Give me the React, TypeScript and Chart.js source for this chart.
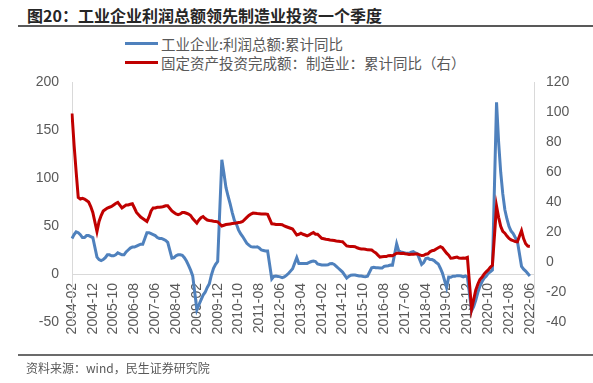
import React, { useEffect, useRef } from 'react';
import { Chart, registerables } from 'chart.js';

Chart.register(...registerables);

// 工业企业:利润总额:累计同比 (%), Feb..Dec of each year (January has no release)
const profitByYear: number[][] = [
  [37, 41, 44, 43, 41, 38, 38, 40, 40, 39, 38], // 2004
  [17.6, 15, 14, 15, 17, 20, 20, 19, 19, 20, 22], // 2005
  [20, 20, 23, 25, 27, 28, 28, 29, 30, 31, 31], // 2006
  [43, 43, 42, 41, 40, 38, 37, 37, 36, 35, 33], // 2007
  [16.5, 17, 19, 20, 20, 19.5, 17, 13.5, 9, 4, -2], // 2008
  [-37.3, -32, -27, -22, -19, -14, -10, -1, 6, 10, 13], // 2009
  [119, 105, 90, 81, 73, 64, 56, 52, 46, 42, 39], // 2010
  [32, 30, 28.5, 28, 28, 28.3, 27, 25, 24.5, 24, 24], // 2011
  [-5.2, -2.5, -2.2, -2.5, -3, -3.8, -3, -1.5, 0.5, 3, 5.5], // 2012
  [17, 11, 11, 11, 11, 11, 12, 13, 13.5, 13, 10.5], // 2013
  [9.5, 9.5, 9.3, 9.5, 10.7, 11, 10, 8, 6, 4, 2], // 2014
  [-4.2, -2.5, -1.3, -1, -1, -1.5, -2, -2, -2.5, -2.8, -2.3], // 2015
  [6.5, 7, 6.5, 6.4, 6.2, 6.2, 8, 8.4, 8.6, 9.4, 9.3], // 2016
  [31.5, 24, 23, 22.5, 22, 21.5, 21.6, 22.8, 23.3, 21.9, 21], // 2017
  [10, 12, 16, 16.5, 15, 15, 14, 12, 10.5, 6, 1], // 2018
  [-14, -3.3, -3.4, -2.3, -2.4, -1.7, -1.7, -2.1, -2.9, -2.1, -3.3], // 2019
  [-38.3, -34, -27.4, -19.3, -12.8, -8.1, -4.4, -2.4, 0.7, 2.4, 4.1], // 2020
  [178.9, 137.3, 106, 83.4, 66.9, 57.3, 49.5, 44.7, 42.2, 38, 34.3], // 2021
  [8, 5, 3, 0.5, -2], // 2022
];

// 固定资产投资完成额：制造业：累计同比 (%), right axis, Feb..Dec
const faiByYear: number[][] = [
  [99, 78, 60, 43, 42, 42.5, 42, 41, 40, 37, 33], // 2004
  [20.3, 27, 31, 34, 35, 36, 36.5, 37, 38, 39, 39.7], // 2005
  [36, 37, 38, 38, 38.5, 38.8, 36, 33, 31.5, 30, 29], // 2006
  [27, 30, 34, 36, 36, 36.5, 36.5, 36.6, 37, 37.5, 37.5], // 2007
  [34, 33, 32, 31.5, 32, 33, 33, 32.5, 32, 31, 29], // 2008
  [26, 28, 29.5, 30.3, 29, 28, 27.7, 27.5, 27.2, 27, 26.8], // 2009
  [24, 24.5, 25, 25.2, 25.4, 25.6, 25.8, 26, 26.3, 26.5, 27], // 2010
  [29.7, 31, 32, 32.6, 32.5, 32.3, 32.2, 32, 32, 32, 31.8], // 2011
  [25.4, 25.3, 25, 25, 25, 24.8, 24, 23.5, 23, 22.5, 22], // 2012
  [18, 18.5, 19.2, 18.5, 18, 17.4, 18, 19, 19.6, 18.5, 18.5], // 2013
  [15.8, 15.5, 15.2, 15, 14.7, 14.5, 14.3, 14, 13.8, 13.6, 13.5], // 2014
  [10.7, 10.5, 10.4, 10.3, 10.2, 9.5, 9, 8.7, 8.6, 8.5, 8.1], // 2015
  [8, 6.9, 6, 4.6, 3.3, 3.5, 3.6, 3.6, 4.2, 4.4, 4.2], // 2016
  [5.8, 5.8, 5.7, 5.8, 5.5, 5.3, 5, 5.1, 5.2, 5.3, 5.4], // 2017
  [4.3, 4.5, 5.2, 5.5, 6.8, 7.5, 7.8, 8.7, 9.5, 10.2, 9.5], // 2018
  [5.9, 4.6, 2.5, 2.7, 3, 3.3, 2.6, 2.5, 2.6, 2.5, 3.1], // 2019
  [-31.5, -25.2, -18.8, -14.8, -11.7, -10.2, -8.1, -6.5, -5.3, -3.5, -2.2], // 2020
  [37.3, 29.8, 23.8, 20.4, 19.2, 17.3, 15.7, 14.8, 14.2, 13.7, 13.5], // 2021
  [20.9, 15.6, 12.2, 10.6, 10.4], // 2022
];

const tickLabels = [
  '2004-02', '2004-12', '2005-10', '2006-08', '2007-06', '2008-04', '2009-02', '2009-12',
  '2010-10', '2011-08', '2012-06', '2013-04', '2014-02', '2014-12', '2015-10', '2016-08',
  '2017-06', '2018-04', '2019-02', '2019-12', '2020-10', '2021-08', '2022-06',
];

const seriesNames = ['工业企业:利润总额:累计同比', '固定资产投资完成额：制造业：累计同比（右）'];
const seriesColors = ['#4f81bd', '#c00000'];
const titleText = '图20：工业企业利润总额领先制造业投资一个季度';
const sourceText = '资料来源：wind，民生证券研究院';

const START_YEAR = 2004;

function flattenYears(rows: number[][]): (number | null)[] {
  const out: (number | null)[] = [];
  rows.forEach((row, k) => {
    if (k > 0) out.push(null); // January (no release)
    row.forEach((v) => out.push(v));
  });
  return out;
}

function buildCategories(count: number): string[] {
  const cats: string[] = [];
  let y = START_YEAR;
  let m = 2;
  for (let i = 0; i < count; i++) {
    cats.push(`${y}-${m < 10 ? '0' + m : m}`);
    m++;
    if (m > 12) { m = 1; y++; }
  }
  return cats;
}

const profit = flattenYears(profitByYear);
const fai = flattenYears(faiByYear);
const categories = buildCategories(profit.length).concat(['', '']);

const TICK_FONT = { family: '"Liberation Sans", Arial, sans-serif', size: 14 };
const GRAY = '#595959';
const CJK = '"Noto Sans CJK SC", "Liberation Sans", sans-serif';

function ChartCanvas() {
  const ref = useRef<HTMLCanvasElement | null>(null);
  useEffect(() => {
    if (!ref.current) return;
    const chart = new Chart(ref.current, {
      type: 'line',
      data: {
        labels: categories,
        datasets: [
          {
            label: seriesNames[0],
            data: profit,
            borderColor: seriesColors[0],
            backgroundColor: seriesColors[0],
            borderWidth: 3,
            pointRadius: 0,
            tension: 0,
            spanGaps: true,
            yAxisID: 'y',
            order: 1,
          },
          {
            label: seriesNames[1],
            data: fai,
            borderColor: seriesColors[1],
            backgroundColor: seriesColors[1],
            borderWidth: 3,
            pointRadius: 0,
            tension: 0,
            spanGaps: true,
            yAxisID: 'y1',
            order: 0,
          },
        ],
      },
      options: {
        animation: false,
        responsive: true,
        maintainAspectRatio: false,
        layout: { padding: { top: 82, bottom: 61, left: 0, right: 0 } },
        plugins: { legend: { display: false }, tooltip: { enabled: false }, title: { display: false } },
        scales: {
          x: {
            type: 'category',
            position: { y: 0 } as any,
            grid: { display: false, drawTicks: false },
            border: { display: true, color: '#d9d9d9', width: 1 },
            ticks: {
              autoSkip: false,
              minRotation: 90,
              maxRotation: 90,
              padding: 9,
              color: GRAY,
              font: TICK_FONT,
              callback: (_v: any, idx: number) => {
                const lab = categories[idx];
                return tickLabels.includes(lab) ? lab : '';
              },
            },
          },
          y: {
            position: 'left',
            min: -50,
            max: 200,
            grid: { display: false, drawTicks: false },
            border: { display: true, color: '#d9d9d9', width: 1 },
            ticks: { stepSize: 50, padding: 13, color: GRAY, font: TICK_FONT },
            afterFit: (s: any) => { s.width = 72; },
          },
          y1: {
            position: 'right',
            min: -40,
            max: 120,
            grid: { display: false, drawTicks: false },
            border: { display: true, color: '#d9d9d9', width: 1 },
            ticks: { stepSize: 20, padding: 12, color: GRAY, font: TICK_FONT },
            afterFit: (s: any) => { s.width = 59; },
          },
        },
      },
    } as any);
    return () => chart.destroy();
  }, []);
  return (
    <div style={{ position: 'absolute', left: 0, top: 0, width: 593, height: 383 }}>
      <canvas ref={ref} />
    </div>
  );
}

export default function App() {
  return (
    <div style={{ position: 'fixed', left: 0, top: 0, width: 593, height: 383, background: '#fff', overflow: 'hidden' }}>
      <div style={{ position: 'absolute', left: 27, top: 5, height: 20, lineHeight: '20px', fontFamily: CJK, fontWeight: 700, fontSize: 16, color: '#262626', whiteSpace: 'nowrap' }}>
        {titleText}
      </div>
      <div style={{ position: 'absolute', left: 18, top: 25, width: 575, height: 2, background: '#595959' }} />
      {seriesNames.map((name, i) => (
        <div key={name} style={{ position: 'absolute', left: 125, top: 34 + i * 19, height: 19, display: 'flex', alignItems: 'center', whiteSpace: 'nowrap' }}>
          <span style={{ display: 'inline-block', width: 33, height: 3, background: seriesColors[i], marginRight: 3 }} />
          <span style={{ fontFamily: CJK, fontSize: 14.5, color: GRAY, lineHeight: '19px' }}>{name}</span>
        </div>
      ))}
      <ChartCanvas />
      <div style={{ position: 'absolute', left: 18, top: 354, width: 575, height: 2, background: '#6b6b6b' }} />
      <div style={{ position: 'absolute', left: 26, top: 359, height: 17, lineHeight: '17px', fontFamily: CJK, fontSize: 12, color: GRAY, whiteSpace: 'nowrap' }}>
        {sourceText}
      </div>
    </div>
  );
}
